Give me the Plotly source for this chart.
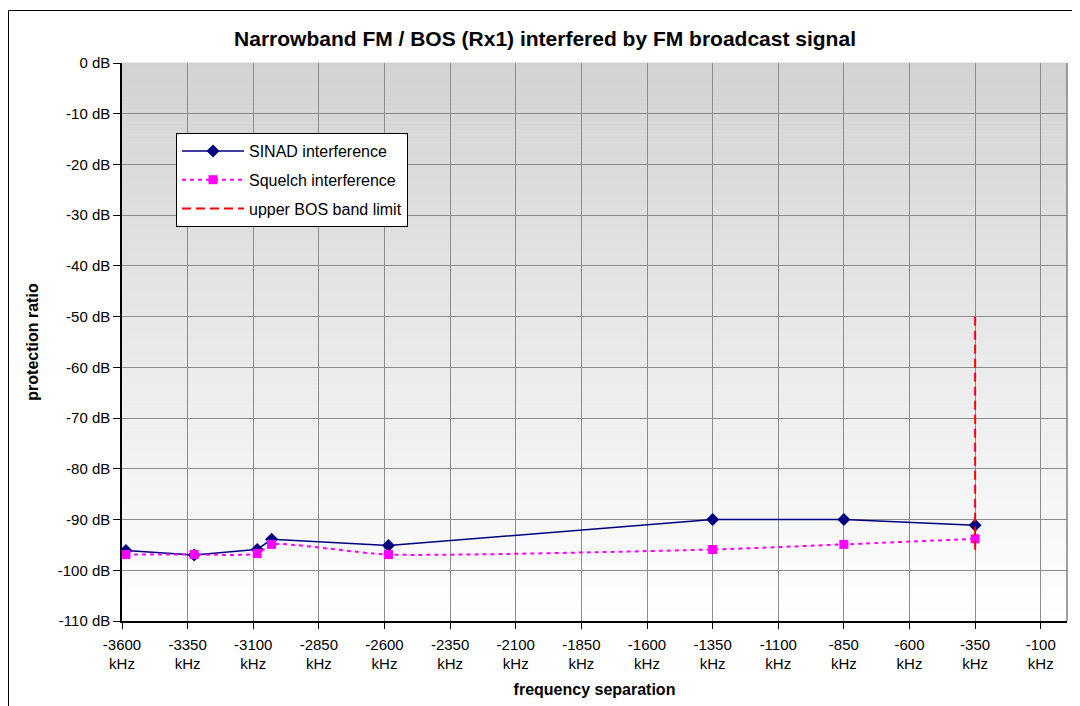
import plotly.graph_objects as go

# ---- data ----
sinad_freq = [-3585, -3325, -3085, -3030, -2585, -1350, -850, -350]
sinad_db = [-96.1, -97.0, -95.9, -93.9, -95.1, -90.0, -90.0, -91.1]

squelch_freq = [-3585, -3325, -3085, -3030, -2585, -1350, -850, -350]
squelch_db = [-96.9, -96.9, -96.7, -94.9, -96.9, -95.9, -94.9, -93.8]

band_limit_freq = [-350, -350]
band_limit_db = [-50, -96.2]

x_tick_vals = [-3600, -3350, -3100, -2850, -2600, -2350, -2100, -1850,
               -1600, -1350, -1100, -850, -600, -350, -100]
x_tick_text = [f"{v}<br>kHz" for v in x_tick_vals]
y_tick_vals = [0, -10, -20, -30, -40, -50, -60, -70, -80, -90, -100, -110]
y_tick_text = [f"{v} dB" for v in y_tick_vals]

FONT = "Liberation Sans, Arial, sans-serif"

fig = go.Figure()

fig.add_trace(go.Scatter(
    x=sinad_freq, y=sinad_db, name="SINAD interference", legendgroup="a",
    mode="lines+markers",
    line=dict(color="#000080", width=1.5),
    marker=dict(symbol="diamond", size=10, color="#000080"),
))
fig.add_trace(go.Scatter(
    x=squelch_freq, y=squelch_db, name="Squelch interference", legendgroup="b",
    mode="lines+markers",
    line=dict(color="#ff00ff", width=2, dash="4px,4px", shape="spline", smoothing=0.6),
    marker=dict(symbol="square", size=9, color="#ff00ff"),
))
fig.add_trace(go.Scatter(
    x=band_limit_freq, y=band_limit_db, name="upper BOS band limit", legendgroup="c",
    mode="lines",
    line=dict(color="#ff0000", width=2, dash="9px,5px"),
))

# page offset (browser body margin) and figure geometry
OFF = 8
W, H = 1080, 706
L, R, T, B = 114, 21, 55, 93
pw, ph = W - L - R, H - T - B


def px(xs):
    return (xs - OFF - L) / pw


def py(ys):
    return (H - B - (ys - OFF)) / ph


# gradient background for the plot area (grey at top to white at bottom)
shapes = []
n = 140
top = (210, 210, 210)
bot = (255, 255, 255)
for i in range(n):
    t = (i + 0.5) / n
    c = [round(top[k] + (bot[k] - top[k]) * t) for k in range(3)]
    shapes.append(dict(
        type="rect", xref="paper", yref="paper", layer="below",
        x0=0, x1=1, y0=1 - (i + 1) / n, y1=1 - i / n + 0.001,
        fillcolor=f"rgb({c[0]},{c[1]},{c[2]})", line=dict(width=0),
    ))
# right border of plot area
shapes.append(dict(type="line", xref="paper", yref="paper", x0=1, x1=1, y0=0, y1=1,
                   line=dict(color="#808080", width=1.5), layer="above"))
# outer chart border
shapes.append(dict(type="rect", xref="paper", yref="paper",
                   x0=px(8.5), x1=px(1100), y0=py(730), y1=py(10.5),
                   line=dict(color="black", width=1), fillcolor="rgba(0,0,0,0)", layer="above"))

fig.update_layout(
    width=W, height=H,
    margin=dict(l=L, r=R, t=T, b=B, autoexpand=False),
    paper_bgcolor="white", plot_bgcolor="white",
    font=dict(family=FONT, color="black", size=15),
    title=dict(text="<b>Narrowband FM / BOS (Rx1) interfered by FM broadcast signal</b>",
               x=(545 - OFF) / W, xref="container", y=1 - (39 - OFF) / H, yref="container",
               xanchor="center", yanchor="middle",
               font=dict(family=FONT, size=21, color="black")),
    shapes=shapes,
    showlegend=True,
    legend=dict(x=px(176), y=py(133), xanchor="left", yanchor="top",
                bgcolor="white", bordercolor="black", borderwidth=1,
                font=dict(family=FONT, size=16, color="black"),
                tracegroupgap=5, itemwidth=62),
    xaxis=dict(range=[-3600, 0], tickvals=x_tick_vals, ticktext=x_tick_text,
               showgrid=True, gridcolor="#8c8c8c", gridwidth=1,
               showline=True, linecolor="black", linewidth=1.5,
               ticks="outside", ticklen=6, tickcolor="black",
               zeroline=False, tickfont=dict(size=15), ticklabelstandoff=3,
               title=dict(text="<b>frequency separation</b>", standoff=13,
                          font=dict(size=16))),
    yaxis=dict(range=[-110, 0], tickvals=y_tick_vals, ticktext=y_tick_text,
               showgrid=True, gridcolor="#8c8c8c", gridwidth=1,
               showline=True, linecolor="black", linewidth=1.5,
               ticks="outside", ticklen=7, tickcolor="black",
               zeroline=False, tickfont=dict(size=15),
               title=dict(text="<b>protection ratio</b>", standoff=15,
                          font=dict(size=16))),
)

fig.write_html("out.html")
